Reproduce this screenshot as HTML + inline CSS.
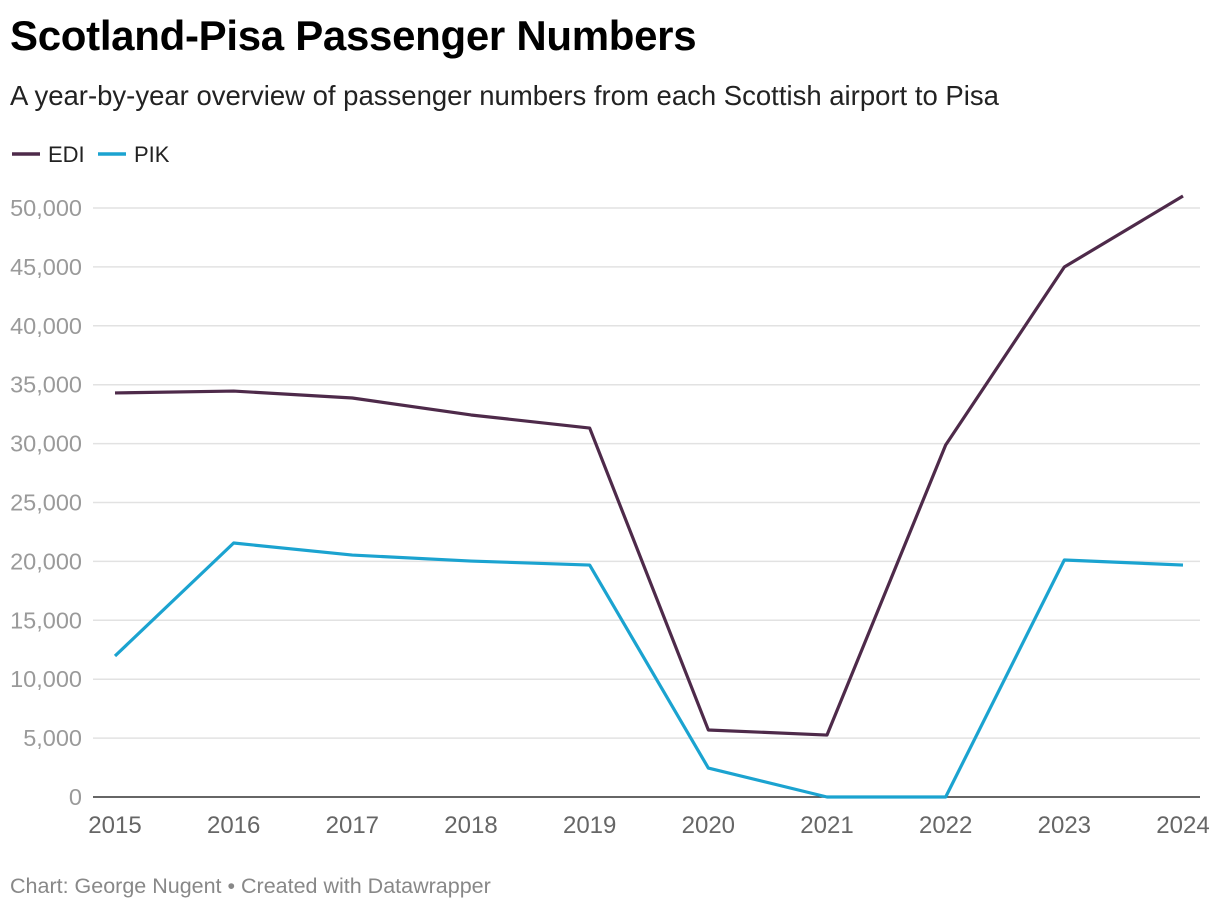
<!DOCTYPE html>
<html><head><meta charset="utf-8"><style>
body{margin:0;background:#fff;font-family:"Liberation Sans",Arial,sans-serif;}
#wrap{position:relative;width:1220px;height:914px;overflow:hidden}
h1{position:absolute;left:10px;top:12px;margin:0;font-size:42px;font-weight:bold;color:#000;letter-spacing:-0.3px}
.sub{position:absolute;left:10px;top:80px;font-size:27.5px;color:#222}
.foot{position:absolute;left:10px;top:874px;font-size:21.5px;color:#888}
</style></head><body>
<div id="wrap">
<h1>Scotland-Pisa Passenger Numbers</h1>
<div class="sub">A year-by-year overview of passenger numbers from each Scottish airport to Pisa</div>
<svg id="chart" width="1220" height="914" style="position:absolute;left:0;top:0"></svg>
<div class="foot">Chart: George Nugent • Created with Datawrapper</div>
</div>
<script>
const years=[2015,2016,2017,2018,2019,2020,2021,2022,2023,2024];
const edi=[34300,34460,33870,32430,31320,5690,5260,29880,44990,51020];
const pik=[11970,21560,20540,20030,19690,2460,0,0,20120,19690];
const yTicks=[0,5000,10000,15000,20000,25000,30000,35000,40000,45000,50000];
const NS="http://www.w3.org/2000/svg";
const svg=document.getElementById('chart');
const x=i=>115+i*(1183-115)/(years.length-1);
const y=v=>797-v*(797-208)/50000;
function mk(t,a){const e=document.createElementNS(NS,t);for(const k in a)e.setAttribute(k,a[k]);svg.appendChild(e);return e;}
yTicks.forEach(v=>{
 if(v>0){const l=mk('line',{x1:93,x2:1200,y1:y(v),y2:y(v),stroke:'#e2e2e2','stroke-width':1.5});
 
 }
 const t=mk('text',{x:82,y:y(v)+8,'text-anchor':'end','font-size':23.5,fill:'#9a9a9a','font-family':'Liberation Sans, Arial, sans-serif'});
 t.textContent=v.toLocaleString('en-US');
 
 
});
const ax=mk('line',{x1:93,x2:1200,y1:797,y2:797,stroke:'#333','stroke-width':1.5});


years.forEach((yr,i)=>{
 const t=mk('text',{x:x(i),y:833,'text-anchor':'middle','font-size':24,fill:'#666','font-family':'Liberation Sans, Arial, sans-serif'});
 t.textContent=yr;
 
 
});
function series(data,color,name){
 const p=mk('polyline',{points:data.map((v,i)=>x(i)+','+y(v)).join(' '),fill:'none',stroke:color,'stroke-width':3.2,'stroke-linejoin':'round'});
 
 
}
series(pik,'#1ba3d0','pik-line');
series(edi,'#4e2a4a','edi-line');
[['EDI','#4e2a4a',12],['PIK','#1ba3d0',98]].forEach(([n,c,lx])=>{
 const l=mk('line',{x1:lx,x2:lx+28,y1:154,y2:154,stroke:c,'stroke-width':3.5});
 
 
 const t=mk('text',{x:lx+36,y:162,'font-size':22,fill:'#222','font-family':'Liberation Sans, Arial, sans-serif'});
 t.textContent=n;
 
 
});
</script>
</body></html>
